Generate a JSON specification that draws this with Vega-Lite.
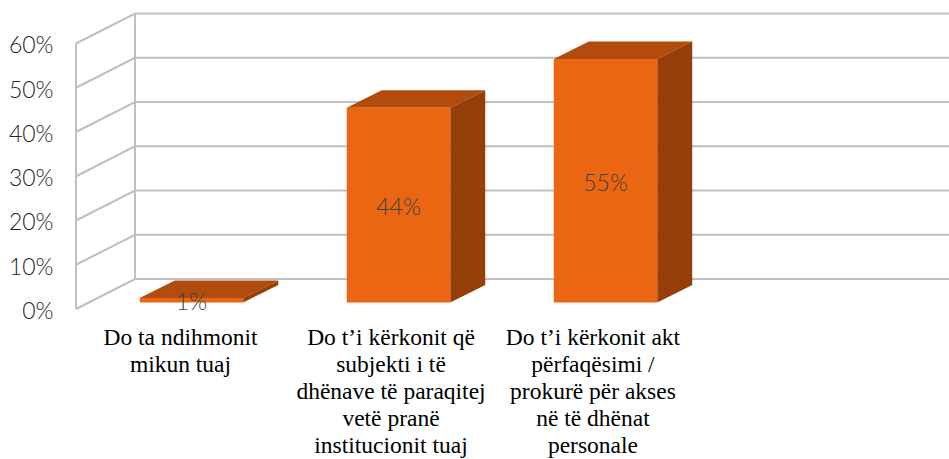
{"$schema":"https://vega.github.io/schema/vega-lite/v6.json","width":949,"height":459,"padding":0,"autosize":{"type":"none"},"background":"white","view":{"stroke":null},
"datasets":{
"bars":[{"category":"Do ta ndihmonit mikun tuaj","center":1,"left":0.75,"right":1.25,"value":1,"mid":0.5,"label":"1%"},{"category":"Do t’i kërkonit që subjekti i të dhënave të paraqitej vetë pranë institucionit tuaj","center":2,"left":1.75,"right":2.25,"value":44,"mid":22,"label":"44%"},{"category":"Do t’i kërkonit akt përfaqësimi / prokurë për akses në të dhënat personale","center":3,"left":2.75,"right":3.25,"value":55,"mid":27.5,"label":"55%"}],
"walls":[
{"line":"w0","pos":0.442,"lev":-1.47},{"line":"w0","pos":0.727,"lev":5.31},{"line":"w0","pos":4.66,"lev":5.31},
{"line":"w10","pos":0.442,"lev":8.53},{"line":"w10","pos":0.727,"lev":15.31},{"line":"w10","pos":4.66,"lev":15.31},
{"line":"w20","pos":0.442,"lev":18.53},{"line":"w20","pos":0.727,"lev":25.31},{"line":"w20","pos":4.66,"lev":25.31},
{"line":"w30","pos":0.442,"lev":28.53},{"line":"w30","pos":0.727,"lev":35.31},{"line":"w30","pos":4.66,"lev":35.31},
{"line":"w40","pos":0.442,"lev":38.53},{"line":"w40","pos":0.727,"lev":45.31},{"line":"w40","pos":4.66,"lev":45.31},
{"line":"w50","pos":0.442,"lev":48.53},{"line":"w50","pos":0.727,"lev":55.31},{"line":"w50","pos":4.66,"lev":55.31},
{"line":"w60","pos":0.442,"lev":58.53},{"line":"w60","pos":0.727,"lev":65.31},{"line":"w60","pos":4.66,"lev":65.31},
{"line":"front","pos":0.442,"lev":-1.47},{"line":"front","pos":0.442,"lev":58.53},
{"line":"back","pos":0.727,"lev":5.31},{"line":"back","pos":0.727,"lev":65.31}],
"tops":[
{"c":"a","pos":0.75,"lo":1,"hi":1},{"c":"a","pos":0.919,"lo":1,"hi":4.955},{"c":"a","pos":1.25,"lo":1,"hi":4.955},{"c":"a","pos":1.419,"lo":4.955,"hi":4.955},
{"c":"b","pos":1.75,"lo":44,"hi":44},{"c":"b","pos":1.919,"lo":44,"hi":47.955},{"c":"b","pos":2.25,"lo":44,"hi":47.955},{"c":"b","pos":2.419,"lo":47.955,"hi":47.955},
{"c":"c","pos":2.75,"lo":55,"hi":55},{"c":"c","pos":2.919,"lo":55,"hi":58.955},{"c":"c","pos":3.25,"lo":55,"hi":58.955},{"c":"c","pos":3.419,"lo":58.955,"hi":58.955}],
"sides":[
{"c":"a","pos":1.25,"lo":0,"hi":1},{"c":"a","pos":1.419,"lo":3.955,"hi":4.955},
{"c":"b","pos":2.25,"lo":0,"hi":44},{"c":"b","pos":2.419,"lo":3.955,"hi":47.955},
{"c":"c","pos":3.25,"lo":0,"hi":55},{"c":"c","pos":3.419,"lo":3.955,"hi":58.955}]
},
"layer":[
{"data":{"name":"walls"},"mark":{"type":"line","stroke":"#BFBFBF","strokeWidth":2,"interpolate":"linear"},
"encoding":{"x":{"field":"pos","type":"quantitative","scale":{"domain":[0.0749,4.6594],"nice":false,"zero":false},"axis":{"title":null,"orient":"bottom","offset":-134,"values":[0.9444,1.9614,2.937],"domain":false,"ticks":false,"grid":false,"labelPadding":0,"labelFont":"Liberation Serif","labelFontSize":23.5,"labelColor":"#000000","labelLimit":0,"labelOverlap":false,"labelFlush":false,"labelBound":false,"labelAngle":0,"labelAlign":"center","labelBaseline":"top","labelLineHeight":27,"labelExpr":"datum.value < 1.5 ? ['Do ta ndihmonit','mikun tuaj'] : datum.value < 2.5 ? ['Do t’i kërkonit që','subjekti i të','dhënave të paraqitej','vetë pranë','institucionit tuaj'] : ['Do t’i kërkonit akt','përfaqësimi /','prokurë për akses','në të dhënat','personale']"}},"y":{"field":"lev","type":"quantitative","scale":{"domain":[-35.37,68.36],"nice":false,"zero":false},"axis":{"title":null,"orient":"left","offset":-53,"values":[0,10,20,30,40,50,60],"labelExpr":"datum.value + '%'","domain":false,"ticks":false,"grid":false,"labelPadding":0,"labelOffset":9,"labelFont":"Lato","labelFontWeight":300,"labelFontSize":23,"labelColor":"#262626","labelAlign":"right","labelBaseline":"middle","labelOverlap":false,"labelFlush":false,"labelBound":false}},"detail":{"field":"line"}}},
{"data":{"name":"tops"},"mark":{"type":"area","fill":"#B14C0C","interpolate":"linear"},
"encoding":{"x":{"field":"pos","type":"quantitative"},"y":{"field":"lo","type":"quantitative"},"y2":{"field":"hi"},"detail":{"field":"c"}}},
{"data":{"name":"sides"},"mark":{"type":"area","fill":"#963E08","interpolate":"linear"},
"encoding":{"x":{"field":"pos","type":"quantitative"},"y":{"field":"lo","type":"quantitative"},"y2":{"field":"hi"},"detail":{"field":"c"}}},
{"data":{"name":"bars"},"mark":{"type":"bar","fill":"#EB6612"},
"encoding":{"x":{"field":"left","type":"quantitative"},"x2":{"field":"right"},"y":{"field":"value","type":"quantitative"},"y2":{"datum":0}}},
{"data":{"name":"bars"},"mark":{"type":"text","font":"Lato","fontWeight":300,"fontSize":23,"fill":"#404040","align":"center","baseline":"middle","dy":3},
"encoding":{"x":{"field":"center","type":"quantitative"},"y":{"field":"mid","type":"quantitative"},"text":{"field":"label","type":"nominal"}}}
]}
